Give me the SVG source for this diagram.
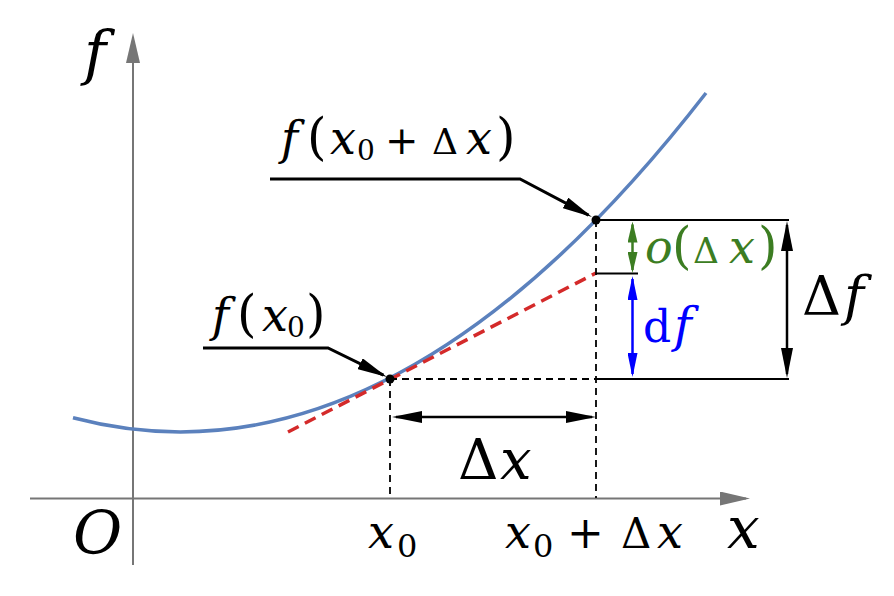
<svg xmlns="http://www.w3.org/2000/svg" width="894" height="596" viewBox="0 0 894 596">
<style>
  .axis{stroke:#767676;stroke-width:2;fill:none}
  .curve{stroke:#5b81bd;stroke-width:3.5;fill:none}
  .tangent{stroke:#d42a2a;stroke-width:3.5;stroke-dasharray:12 7;fill:none}
  .guide{stroke:#000;stroke-width:1.8;stroke-dasharray:7 5;fill:none}
  .solid{stroke:#000;stroke-width:2;fill:none}
  .dim{stroke:#000;stroke-width:2.5;fill:none}
  .leader{stroke:#000;stroke-width:3;fill:none}
  .grn{stroke:#3c7d22;stroke-width:2.5;fill:none}
  .blu{stroke:#0000ff;stroke-width:2.5;fill:none}
  .it{font-style:italic}
  text{font-family:"DejaVu Serif","Liberation Serif",serif}
</style>
<defs>
  <marker id="axhead" markerUnits="userSpaceOnUse" viewBox="0 0 30 14" markerWidth="30" markerHeight="14" refX="26" refY="7" orient="auto">
    <path d="M0,0 L30,7 L0,14 z" fill="#767676"/>
  </marker>
  <marker id="bhead" markerUnits="userSpaceOnUse" viewBox="0 0 30 12" markerWidth="30" markerHeight="12" refX="26" refY="6" orient="auto-start-reverse">
    <path d="M0,0 L30,6 L0,12 z" fill="#000"/>
  </marker>
  <marker id="ghead" markerUnits="userSpaceOnUse" viewBox="0 0 21 10" markerWidth="21" markerHeight="10" refX="18" refY="5" orient="auto-start-reverse">
    <path d="M0,0 L21,5 L0,10 z" fill="#3c7d22"/>
  </marker>
  <marker id="uhead" markerUnits="userSpaceOnUse" viewBox="0 0 24 10" markerWidth="24" markerHeight="10" refX="21" refY="5" orient="auto-start-reverse">
    <path d="M0,0 L24,5 L0,10 z" fill="#0000ff"/>
  </marker>
</defs>

<g id="axes">
  <line class="axis" x1="30" y1="498.5" x2="746" y2="498.5" marker-end="url(#axhead)"/>
  <line class="axis" x1="133" y1="565" x2="133" y2="37" marker-end="url(#axhead)"/>
</g>

<g id="curve">
  <path class="curve" d="M73,417.8 Q389.5,501.1 706,93"/>
</g>

<g id="tangent">
  <line class="tangent" x1="288" y1="432" x2="596" y2="273"/>
</g>

<g id="connectors">
  <line class="guide" x1="390" y1="379" x2="596" y2="379"/>
  <line class="guide" x1="390" y1="379" x2="390" y2="498"/>
  <line class="guide" x1="596" y1="220" x2="596" y2="498"/>
  <line class="solid" x1="596" y1="220" x2="789" y2="220"/>
  <line class="solid" x1="596" y1="379" x2="789" y2="379"/>
  <line class="solid" x1="596" y1="273.5" x2="638" y2="273.5"/>
  <line class="dim" x1="396" y1="417" x2="592" y2="417" marker-start="url(#bhead)" marker-end="url(#bhead)"/>
  <line class="dim" x1="787" y1="225" x2="787" y2="374" marker-start="url(#bhead)" marker-end="url(#bhead)"/>
  <line class="grn" x1="632.5" y1="224.5" x2="632.5" y2="270" marker-start="url(#ghead)" marker-end="url(#ghead)"/>
  <line class="blu" x1="632.5" y1="279" x2="632.5" y2="374" marker-start="url(#uhead)" marker-end="url(#uhead)"/>
  <polyline class="leader" points="270,179 520,179 588.5,215.1" marker-end="url(#bhead)"/>
  <polyline class="leader" points="203,348 328,348 383.4,375.2" marker-end="url(#bhead)"/>
</g>

<g id="points">
  <circle cx="390" cy="379" r="4.5" fill="#000"/>
  <circle cx="596" cy="220" r="4.5" fill="#000"/>
</g>

<g id="label-f-axis"><text class="it" x="84" y="74" font-size="60">f</text></g>
<g id="label-origin"><text class="it" x="73" y="554" font-size="60">O</text></g>
<g id="label-x-axis"><text class="it" x="727" y="548" font-size="58">x</text></g>

<g id="label-fx0dx">
  <text y="154" font-size="46"><tspan class="it" x="281">f</tspan><tspan x="307" font-size="50">(</tspan><tspan class="it" x="330">x</tspan><tspan x="357" y="160" font-size="28">0</tspan><tspan x="385" y="154" font-size="40">+</tspan><tspan x="432" font-size="36">Δ</tspan><tspan class="it" x="466">x</tspan><tspan x="496" font-size="50">)</tspan></text>
</g>

<g id="label-fx0">
  <text y="331" font-size="46"><tspan class="it" x="212">f</tspan><tspan x="237" font-size="50">(</tspan><tspan class="it" x="262">x</tspan><tspan x="287" y="337" font-size="28">0</tspan><tspan x="306" y="331" font-size="50">)</tspan></text>
</g>

<g id="label-o">
  <text y="263" font-size="46" fill="#3c7d22"><tspan class="it" x="645">o</tspan><tspan x="672" font-size="50">(</tspan><tspan x="693" font-size="36">Δ</tspan><tspan class="it" x="729">x</tspan><tspan x="758" font-size="50">)</tspan></text>
</g>

<g id="label-df">
  <text y="342" fill="#0000ff"><tspan x="643" font-size="44">d</tspan><tspan class="it" x="674" font-size="48">f</tspan></text>
</g>

<g id="label-Df">
  <text y="315" font-size="54"><tspan x="802">Δ</tspan><tspan class="it" x="844">f</tspan></text>
</g>

<g id="label-Dx">
  <text y="479" font-size="56"><tspan x="458">Δ</tspan><tspan class="it" x="500">x</tspan></text>
</g>

<g id="label-x0">
  <text y="548" font-size="46"><tspan class="it" x="368">x</tspan><tspan x="397" y="557" font-size="32">0</tspan></text>
</g>

<g id="label-x0dx">
  <text y="548" font-size="46"><tspan class="it" x="505">x</tspan><tspan x="533" y="557" font-size="32">0</tspan><tspan x="567" y="548" font-size="44">+</tspan><tspan x="621" font-size="42">Δ</tspan><tspan class="it" x="657">x</tspan></text>
</g>
</svg>
